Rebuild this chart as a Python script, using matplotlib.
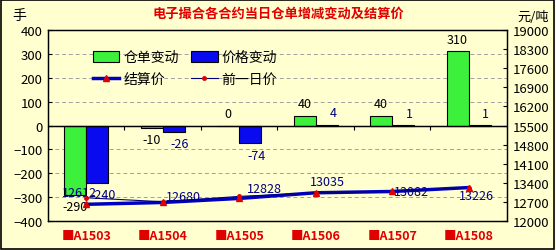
import matplotlib
matplotlib.use("Agg")
import matplotlib.pyplot as plt
import numpy as np

plt.rcParams['font.family'] = ['Noto Sans CJK SC', 'DejaVu Sans']

# data
contracts = ["■A1503", "■A1504", "■A1505", "■A1506", "■A1507", "■A1508"]
stock_change = [-290, -10, 0, 40, 40, 310]
price_change = [-240, -26, -74, 4, 1, 1]
settle_price = [12612, 12680, 12828, 13035, 13082, 13226]
prev_price = [12852, 12706, 12902, 13031, 13081, 13225]

# label offsets for the settlement price (pixels)
settle_offsets = [(-7, 12), (21, 6), (25, 10), (12, 11), (19, 0), (8, -8)]

bg = "#FFFFD0"
fig = plt.figure(figsize=(5.56, 2.51), dpi=100, facecolor=bg)
ax = fig.add_axes([0.0863, 0.1155, 0.8255, 0.761])
ax.set_facecolor(bg)
ax2 = ax.twinx()

x = np.arange(len(contracts))
w = 0.29
ax.bar(x - w / 2, stock_change, w, color="#3CF03C", edgecolor="black", linewidth=0.8,
       label="仓单变动", zorder=3)
ax.bar(x + w / 2, price_change, w, color="#0A0AF0", edgecolor="black", linewidth=0.8,
       label="价格变动", zorder=3)

for i in range(len(contracts)):
    s = stock_change[i]
    ax.annotate(str(s), (x[i] - w / 2, s), xytext=(0, 12 if s >= 0 else -12),
                textcoords="offset pixels", ha="center", va="center", fontsize=9,
                color="black", zorder=5)
    p = price_change[i]
    ax.annotate(str(p), (x[i] + w / 2, p), xytext=(6, 12 if p >= 0 else -12),
                textcoords="offset pixels", ha="center", va="center", fontsize=9,
                color="#000080", zorder=5)

ax.set_ylim(-400, 400)
ax.set_yticks(range(-400, 401, 100))
ax.set_xlim(-0.5, len(contracts) - 0.5)
ax.set_xticks(x)
ax.set_xticklabels(contracts, color="#E00000", fontweight="bold", fontsize=9)
ax.tick_params(axis="x", length=0, pad=6)
ax.tick_params(axis="y", direction="in", length=3, labelsize=9.5, pad=4)
for v in range(-300, 400, 100):
    if v != 0:
        ax.axhline(v, color="#A0A0A0", lw=0.7, ls=(0, (4, 3)), zorder=1)
ax.axhline(0, color="black", lw=1, zorder=4)

zero_ax = ax.secondary_xaxis(0.5)
zero_ax.set_xticks(np.arange(0.5, len(contracts) - 0.5, 1))
zero_ax.set_xticklabels([])
zero_ax.tick_params(direction="in", length=3)
zero_ax.spines["bottom"].set_visible(False)

ax2.plot(x, settle_price, color="#0000C0", lw=2.5, marker="^", markersize=5,
         markerfacecolor="#E00000", markeredgecolor="#E00000", label="结算价", zorder=4)
ax2.plot(x, prev_price, color="#000080", lw=0.8, marker="o", markersize=2.5,
         markerfacecolor="#E00000", markeredgecolor="#E00000", label="前一日价", zorder=4)
for i in range(len(contracts)):
    ax2.annotate(str(settle_price[i]), (x[i], settle_price[i]), xytext=settle_offsets[i],
                 textcoords="offset pixels", ha="center", va="center", fontsize=9,
                 color="#000080")
ax2.set_ylim(12000, 19000)
ax2.set_yticks(range(12000, 19001, 700))
ax2.tick_params(axis="y", direction="in", length=3, labelsize=9.5, pad=4)

for a in (ax, ax2):
    for sp in a.spines.values():
        sp.set_color("black")
        sp.set_linewidth(0.9)

h1, l1 = ax.get_legend_handles_labels()
h2, l2 = ax2.get_legend_handles_labels()
handles = [h1[0], h2[0], h1[1], h2[1]]
labels = [l1[0], l2[0], l1[1], l2[1]]
ax2.legend(handles, labels, ncol=2, loc="upper left", bbox_to_anchor=(0.07, 0.96),
           frameon=False, fontsize=10, handlelength=1.9, handleheight=0.8,
           columnspacing=0.9, handletextpad=0.3, labelspacing=0.55)

fig.text(0.5, 0.944, "电子撮合各合约当日仓单增减变动及结算价", ha="center", va="center",
         color="#E00000", fontsize=9.5, fontweight="bold")
fig.text(0.022, 0.935, "手", ha="left", va="center", fontsize=10)
fig.text(0.93, 0.93, "元/吨", ha="left", va="center", fontsize=9.5)

border = plt.Rectangle((0.002, 0.004), 0.995, 0.992, transform=fig.transFigure,
                       fill=False, edgecolor="black", lw=1.2)
fig.patches.append(border)

fig.savefig("out.png", dpi=100, facecolor=bg)
